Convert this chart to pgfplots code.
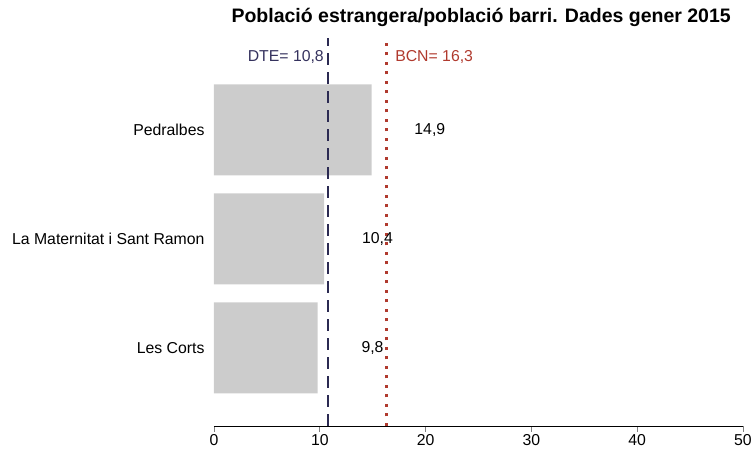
\documentclass[border=0pt]{standalone}
\usepackage{fontspec}
\setmainfont{Liberation Sans}
\usepackage{pgfplots}
\pgfplotsset{compat=1.18}
\definecolor{barc}{HTML}{CCCCCC}
\definecolor{dte}{HTML}{2B2A52}
\definecolor{dtetext}{HTML}{35325E}
\definecolor{bcn}{HTML}{B03A2E}
\begin{document}
\begin{tikzpicture}
\path[use as bounding box] (-214pt,-37pt) rectangle (542pt,426pt);
\begin{axis}[
  at={(0pt,0pt)}, anchor=south west,
  scale only axis, width=529pt, height=388pt,
  xmin=0, xmax=50, ymin=0.284, ymax=3.844,
  axis x line*=bottom, axis y line*=left,
  x axis line style={-, line width=0.8pt},
  y axis line style={draw=none},
  xtick={0,10,20,30,40,50},
  ytick={1,2,3},
  yticklabels={Les Corts, La Maternitat i Sant Ramon, Pedralbes},
  ytick style={draw=none},
  xtick style={line width=0.8pt},
  tick align=outside,
  major tick length=6pt,
  yticklabel style={xshift=0pt},
  xticklabel style={yshift=1pt},
  ticklabel style={font=\fontsize{15.8}{18}\selectfont},
  /pgf/number format/assume math mode=true,
  clip=false,
]
\addplot[xbar, bar width=0.835, fill=barc, draw=none] coordinates {(9.8,1) (10.4,2) (14.9,3)};
\addplot[dte, line width=2.3pt, dash pattern=on 12pt off 7pt] coordinates {(10.8,0.284) (10.8,3.844)};
\addplot[bcn, line width=2.3pt, dash pattern=on 3.2pt off 6.3pt] coordinates {(16.3,0.284) (16.3,3.844)};
\addplot[draw=none, mark=none, nodes near coords, point meta=explicit symbolic,
  nodes near coords style={anchor=center, font=\fontsize{15.8}{18}\selectfont, text=black}]
  coordinates {(20.4,3)[14,9] (15.45,2)[10,4] (14.98,1)[9,8]};
\node[anchor=east, text=dtetext, font=\fontsize{15.8}{18}\selectfont] at (axis cs:10.71,3.67) {DTE= 10,8};
\node[anchor=west, text=bcn, font=\fontsize{15.8}{18}\selectfont] at (axis cs:16.8,3.67) {BCN= 16,3};
\node[font=\bfseries\fontsize{19.5}{22}\selectfont] at (rel axis cs:0.505,1.054) {Població estrangera/població barri. Dades gener 2015};
\end{axis}
\end{tikzpicture}
\end{document}
